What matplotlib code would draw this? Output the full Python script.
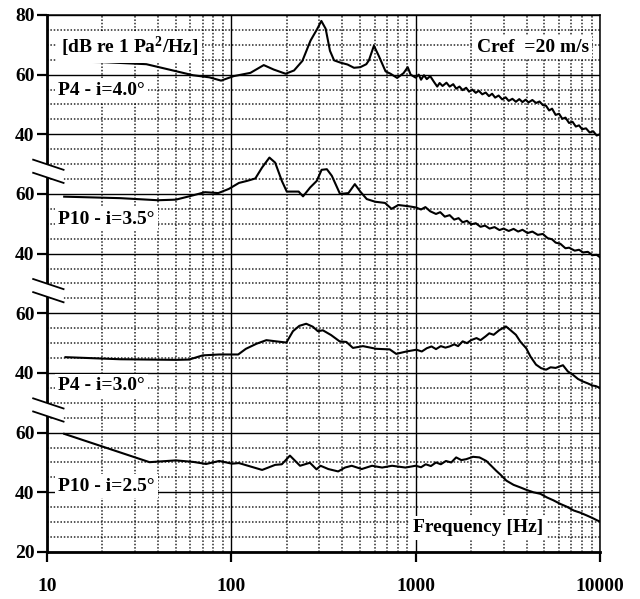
import numpy as np
import matplotlib
matplotlib.rcParams['font.family'] = 'Liberation Serif'
matplotlib.rcParams['font.weight'] = 'bold'
matplotlib.rcParams['mathtext.fontset'] = 'custom'
matplotlib.rcParams['mathtext.rm'] = 'Liberation Serif:bold'
matplotlib.rcParams['mathtext.bf'] = 'Liberation Serif:bold'
matplotlib.rcParams['mathtext.default'] = 'rm'
import matplotlib.pyplot as plt
from matplotlib.ticker import LogLocator, NullFormatter, FixedLocator

# spectra: frequency [Hz], level [dB re 1 Pa^2/Hz]
f_p4_40 = [12.3, 20, 34.6, 46, 62, 76, 88, 103, 127, 150, 170, 197, 219, 243, 269, 293, 308,
           325, 343, 361, 392, 427, 463, 501, 540, 558, 594, 631, 687, 731, 794, 860, 906, 940,
           1000, 1040, 1070, 1110, 1150, 1200, 1260, 1310, 1350, 1400, 1470, 1530, 1600, 1660,
           1730, 1800, 1880, 1950, 2030, 2120, 2200, 2300, 2400, 2500, 2600, 2700, 2820, 2950,
           3080, 3200, 3350, 3500, 3650, 3800, 3950, 4100, 4300, 4500, 4700, 4900, 5100, 5300,
           5500, 5750, 6000, 6250, 6500, 6800, 7100, 7400, 7700, 8000, 8400, 8800, 9200, 9600, 10000]
L_p4_40 = [64.4, 64.2, 63.5, 61.7, 59.8, 59.1, 58.0, 59.5, 60.6, 63.2, 61.7, 60.3, 61.4, 64.6, 71.4, 75.4, 78.0,
           75.4, 68.0, 64.8, 64.0, 63.4, 62.3, 62.5, 63.5, 64.8, 69.7, 66.3, 61.1, 60.3, 58.9, 60.5, 62.5, 60.0,
           59.0, 60.0, 58.3, 59.8, 58.5, 59.5, 57.5, 56.0, 57.2, 56.2, 57.3, 56.0, 56.8, 55.3,
           56.0, 54.8, 55.6, 54.3, 55.0, 53.9, 54.6, 53.4, 54.0, 52.8, 53.6, 52.3, 53.0, 51.7,
           52.4, 51.2, 51.9, 50.9, 51.8, 50.8, 51.6, 50.7, 51.5, 50.5, 51.0, 49.8, 49.6, 48.0,
           48.6, 46.5, 46.9, 45.2, 45.6, 43.8, 44.2, 42.6, 43.0, 41.7, 42.0, 40.6, 41.0, 39.6, 40.0]

f_p10_35 = [12.4, 25, 40, 50, 59, 72, 85, 97, 110, 122, 135, 147, 161, 173, 188, 200, 232, 245,
            268, 291, 309, 330, 351, 389, 432, 468, 501, 543, 603, 682, 741, 805, 912,
            1000, 1070, 1130, 1200, 1290, 1360, 1440, 1530, 1620, 1710, 1800, 1900, 2000, 2120,
            2250, 2380, 2520, 2680, 2850, 3000, 3200, 3400, 3600, 3800, 4050, 4300, 4600, 4900,
            5200, 5500, 5750, 6100, 6500, 6800, 7300, 7700, 8100, 8600, 9100, 9600, 10000]
L_p10_35 = [59.1, 58.6, 57.9, 58.1, 59.2, 60.6, 60.3, 61.7, 63.7, 64.4, 65.2, 68.9, 72.2, 70.5, 64.4, 60.8, 60.8, 59.2,
            62.2, 64.4, 68.1, 68.3, 66.1, 60.0, 60.3, 63.3, 60.8, 58.3, 57.4, 57.0, 55.0, 56.3, 55.9,
            55.5, 54.8, 55.6, 54.2, 53.3, 53.9, 52.4, 52.9, 51.4, 51.9, 50.5, 51.0, 49.8, 50.2,
            49.0, 49.4, 48.4, 48.9, 47.9, 48.4, 47.6, 48.3, 47.4, 48.0, 46.9, 47.4, 46.3, 46.6,
            45.2, 44.8, 43.7, 43.3, 41.8, 42.0, 41.0, 41.3, 40.4, 40.6, 39.5, 39.6, 38.8]

f_p4_30 = [12.6, 25, 50, 59, 70, 86, 109, 120, 137, 155, 175, 199, 216, 234, 255, 277, 295, 314,
           348, 387, 421, 457, 518, 612, 724, 785, 891, 1010, 1080, 1150, 1220, 1290, 1370, 1450,
           1530, 1620, 1700, 1800, 1900, 2000, 2140, 2250, 2400, 2510, 2650, 2850, 3090, 3250,
           3500, 3700, 3980, 4200, 4500, 4800, 5100, 5400, 5750, 6300, 6700, 7100, 7600, 8050,
           8600, 9100, 9500, 10000]
L_p4_30 = [45.3, 44.6, 44.4, 44.5, 45.9, 46.2, 46.2, 48.1, 49.8, 51.0, 50.6, 50.2, 54.0, 55.8, 56.5, 55.5, 54.0, 54.3,
           52.7, 50.6, 50.4, 48.4, 49.0, 48.1, 47.9, 46.4, 47.2, 47.8, 47.2, 48.3, 48.9, 48.0, 49.0, 48.5,
           48.9, 49.6, 49.0, 50.6, 50.0, 51.0, 51.7, 51.0, 52.3, 53.3, 52.8, 54.4, 55.6, 54.5,
           52.8, 50.5, 48.3, 45.5, 42.8, 41.6, 41.1, 41.9, 41.7, 42.6, 40.5, 39.5, 38.0, 37.2,
           36.5, 35.8, 35.6, 35.0]

f_p10_25 = [12.4, 36, 50, 62, 73, 86, 101, 110, 147, 173, 188, 208, 236, 267, 290, 305, 336, 380,
            414, 450, 510, 580, 658, 745, 881, 1000, 1070, 1135, 1210, 1290, 1370, 1460, 1560,
            1660, 1770, 1880, 2050, 2220, 2420, 2600, 2740, 2900, 3110, 3400, 3680, 4000, 4360,
            4750, 5150, 5600, 6100, 6600, 7210, 7800, 8510, 9100, 9660, 10000]
L_p10_25 = [59.6, 50.1, 50.7, 50.2, 49.5, 50.5, 49.6, 49.8, 47.5, 49.2, 49.4, 52.3, 48.9, 49.9, 47.7, 48.9, 47.8, 47.0,
            48.3, 48.9, 47.8, 48.9, 48.3, 48.9, 48.3, 48.9, 48.4, 49.4, 48.8, 50.0, 49.4, 50.5, 50.0,
            51.7, 50.8, 51.1, 51.9, 51.7, 50.5, 48.6, 47.2, 45.8, 43.9, 42.5, 41.7, 40.8, 40.0,
            39.5, 38.3, 37.3, 36.1, 35.2, 33.9, 33.2, 32.2, 31.4, 30.6, 30.2]

series = [f_p4_40, L_p4_40], [f_p10_35, L_p10_35], [f_p4_30, L_p4_30], [f_p10_25, L_p10_25]
names = ['P4 - i=4.0\u00b0', 'P10 - i=3.5\u00b0', 'P4 - i=3.0\u00b0', 'P10 - i=2.5\u00b0']
offsets = [0, -40, -80, -120]   # each panel shifted down by 40 dB on the common axis
ytick_pos = [80, 60, 40, 20, 0, -20, -40, -60, -80, -100]
ytick_lab = ['80', '60', '40', '60', '40', '60', '40', '60', '40', '20']
xtick_pos = [10, 100, 1000, 10000]

fig = plt.figure(figsize=(6.4, 5.99), dpi=100)
ax = fig.add_axes([0.0734, 0.0785, 0.864, 0.8965])

for (f, L), off in zip(series, offsets):
    ax.plot(f, np.array(L) + off, color='black', lw=1.5, zorder=3)

ax.set_xscale('log')
ax.set_xlim(10, 10000)
ax.set_ylim(-100, 80)
ax.set_xticks(xtick_pos)
ax.set_xticklabels([str(v) for v in xtick_pos])
ax.xaxis.set_minor_locator(LogLocator(base=10, subs=np.arange(2, 10)))
ax.xaxis.set_minor_formatter(NullFormatter())
ax.set_yticks(ytick_pos)
ax.set_yticklabels(ytick_lab)
ax.yaxis.set_minor_locator(FixedLocator(np.arange(-100, 81, 5)))

ax.tick_params(which='major', direction='out', length=7, width=1.6, labelsize=14, pad=2)
ax.tick_params(axis='x', which='major', pad=12)
ax.tick_params(which='minor', length=0)
for lab in ax.get_xticklabels() + ax.get_yticklabels():
    lab.set_fontweight('bold')

ax.set_axisbelow(True)
ax.grid(which='major', color='black', lw=1.0, ls='-')
ax.grid(which='minor', color='black', lw=1.1, ls=(0, (1.0, 1.2)), alpha=0.85)

for s in ['left', 'bottom']:
    ax.spines[s].set_linewidth(2.0)
for s in ['top', 'right']:
    ax.spines[s].set_linewidth(1.1)

# axis break marks on the left spine
tr = ax.get_yaxis_transform()
for base in [20, -20, -60]:
    y1, y2 = base + 9.8, base + 5.4
    ax.fill([-0.025, 0.03, 0.03, -0.025], [y1 + 1.7, y1 - 1.7, y2 - 1.7, y2 + 1.7],
            color='white', transform=tr, clip_on=False, zorder=5, lw=0)
    for yc in (y1, y2):
        ax.plot([-0.025, 0.03], [yc + 1.7, yc - 1.7], color='black', lw=1.3,
                transform=tr, clip_on=False, zorder=6)

box = dict(facecolor='white', edgecolor='none', pad=2.5)
txt = dict(fontsize=14, fontweight='bold', bbox=box, zorder=4)
ax.text(0.025, 0.94, r'[dB re 1 Pa$^2$/Hz]', transform=ax.transAxes, va='center', ha='left', **txt)
ax.text(0.98, 0.94, 'Cref  =20 m/s', transform=ax.transAxes, va='center', ha='right', **txt)
label_y = [54.8, 11.5, -44.2, -78.0]
for name, yl in zip(names, label_y):
    ax.text(0.02, yl, name, transform=tr, va='center', ha='left', **txt)
ax.text(0.78, -91.8, 'Frequency [Hz]', transform=tr, va='center', ha='center', **txt)

plt.savefig('out.png', dpi=100)
plt.close(fig)
